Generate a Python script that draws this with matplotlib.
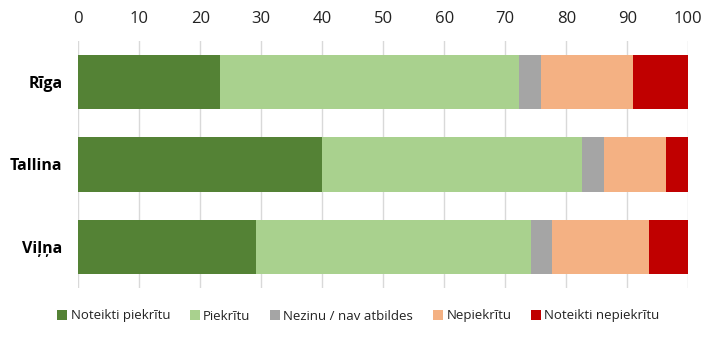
import matplotlib.pyplot as plt
import numpy as np
from matplotlib.patches import Patch

plt.rcParams['font.family'] = ['Open Sans', 'DejaVu Sans']

cities = ['Rīga', 'Tallina', 'Viļņa']
answers = ['Noteikti piekrītu', 'Piekrītu', 'Nezinu / nav atbildes', 'Nepiekrītu', 'Noteikti nepiekrītu']
# shares in % per city, one list per answer
strongly_agree = [23.2, 40.0, 29.1]
agree = [49.0, 42.6, 45.1]
dont_know = [3.7, 3.6, 3.4]
disagree = [15.0, 10.1, 15.9]
strongly_disagree = [9.1, 3.7, 6.5]
colors = ['#548235', '#a9d18e', '#a5a5a5', '#f4b183', '#c00000']

series = [strongly_agree, agree, dont_know, disagree, strongly_disagree]

fig = plt.figure(figsize=(7.17, 3.37), dpi=100)
ax = fig.add_axes([78.3 / 717, 1 - 288 / 337, 610 / 717, 247 / 337])

y = np.arange(len(cities))
left = np.zeros(len(cities))
for vals, col in zip(series, colors):
    ax.barh(y, vals, left=left, height=0.66, color=col, zorder=2)
    left += np.array(vals)

ax.set_xlim(0, 100)
ax.set_ylim(2.5, -0.5)
ax.set_xticks(range(0, 101, 10))
ax.xaxis.tick_top()
ax.tick_params(axis='x', length=0, pad=10, labelsize=12, colors='#222222')
ax.tick_params(axis='y', length=0, pad=11.5)
ax.set_yticks(y)
ax.set_yticklabels(cities, fontsize=11.5, fontweight='bold')
ax.grid(axis='x', color='#d9d9d9', linewidth=1, zorder=0)
for s in ax.spines.values():
    s.set_visible(False)

handles = [Patch(facecolor=c, label=a) for a, c in zip(answers, colors)]
fig.legend(handles=handles, loc='center', bbox_to_anchor=(0.5, 1 - 316 / 337),
           ncol=5, frameon=False, fontsize=9.5, handlelength=0.75, handleheight=0.75,
           handletextpad=0.25, columnspacing=1.5, labelcolor='#222222')

fig.savefig('out.png', dpi=100)
